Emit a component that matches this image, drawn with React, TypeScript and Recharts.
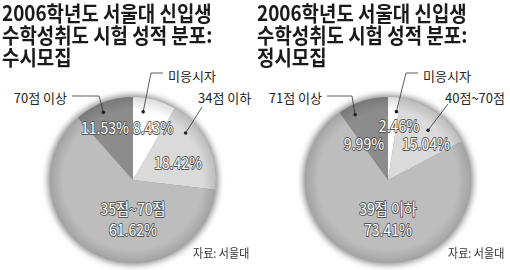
import React from 'react';
import { PieChart, Pie, Cell } from 'recharts';

// ---- data ----
const titleSusi = ['2006학년도 서울대 신입생', '수학성취도 시험 성적 분포:', '수시모집'];
const titleJeongsi = ['2006학년도 서울대 신입생', '수학성취도 시험 성적 분포:', '정시모집'];
const susiCategories = ['미응시자', '34점 이하', '35점~70점', '70점 이상'];
const susiValues = [8.43, 18.42, 61.62, 11.53];
const jeongsiCategories = ['미응시자', '40점~70점', '39점 이하', '71점 이상'];
const jeongsiValues = [2.46, 15.04, 73.41, 9.99];
const sourceText = '자료: 서울대';

// ---- styles / layout ----
const sliceColors = ['#ffffff', '#dadada', '#bdbdbd', '#8c8c8c'];
const W = 510;
const H = 270;
const R = 83;
const KR = '"Noto Sans CJK KR", "Noto Sans", sans-serif';

type Callout = {
  kind: 'callout';
  pct: [number, number];
  text: [number, number];
  anchor: 'start' | 'end';
  line: [number, number][];
  dotAt: number; // fraction of the slice's sweep, from its start
  dotR: number; // fraction of the radius
};
type Inside = { kind: 'inside'; name: [number, number]; pct: [number, number] };
type LabelLayout = Callout | Inside;

const susiLayout: LabelLayout[] = [
  { kind: 'callout', pct: [20, -53], text: [35, -105], anchor: 'start', line: [[30, -107], [18, -107]], dotAt: 0.28, dotR: 0.83 },
  { kind: 'callout', pct: [45, -18], text: [65, -83], anchor: 'start', line: [[69, -73]], dotAt: 0.27, dotR: 0.85 },
  { kind: 'inside', name: [0, 28], pct: [0, 49] },
  { kind: 'callout', pct: [-28, -53], text: [-66, -83], anchor: 'end', line: [[-61, -84], [-34, -84]], dotAt: 0.43, dotR: 0.89 },
];
const jeongsiLayout: LabelLayout[] = [
  { kind: 'callout', pct: [11, -55], text: [35, -105], anchor: 'start', line: [[30, -107], [18, -107]], dotAt: 0.8, dotR: 0.83 },
  { kind: 'callout', pct: [38, -37], text: [57, -83], anchor: 'start', line: [[60, -76]], dotAt: 0.56, dotR: 0.77 },
  { kind: 'inside', name: [0, 28], pct: [0, 49] },
  { kind: 'callout', pct: [-24, -37], text: [-66, -83], anchor: 'end', line: [[-61, -84], [-36, -84]], dotAt: 0.25, dotR: 0.88 },
];

const RAD = Math.PI / 180;

const OutlineText = ({ x, y, children }: { x: number; y: number; children: React.ReactNode }) => (
  <text
    transform={`translate(${x},${y}) scale(0.88,1)`}
    x={0}
    y={0}
    textAnchor="middle"
    dominantBaseline="central"
    fontFamily={KR}
    fontSize={16}
    fill="#ffffff"
    stroke="#555"
    strokeWidth={1.8}
    strokeLinejoin="round"
    style={{ paintOrder: 'stroke' }}
  >
    {children}
  </text>
);

const makeLabel = (cats: string[], vals: number[], layout: LabelLayout[]) => (props: any) => {
  const { cx, cy, outerRadius, index, startAngle, endAngle } = props;
  const L = layout[index];
  const pctText = `${vals[index].toFixed(2)}%`;
  if (!L) return null;
  if (L.kind === 'inside') {
    return (
      <g>
        <OutlineText x={cx + L.name[0]} y={cy + L.name[1]}>{cats[index]}</OutlineText>
        <OutlineText x={cx + L.pct[0]} y={cy + L.pct[1]}>{pctText}</OutlineText>
      </g>
    );
  }
  const ang = startAngle + L.dotAt * (endAngle - startAngle);
  const dr = outerRadius * L.dotR;
  const dx = cx + dr * Math.cos(-ang * RAD);
  const dy = cy + dr * Math.sin(-ang * RAD);
  const pts = [...L.line.map(([a, b]) => [cx + a, cy + b]), [dx, dy]];
  return (
    <g>
      <polyline points={pts.map((p) => p.join(',')).join(' ')} fill="none" stroke="#333" strokeWidth={0.8} />
      <circle cx={dx} cy={dy} r={1.8} fill="#222" />
      <text
        x={cx + L.text[0]}
        y={cy + L.text[1]}
        textAnchor={L.anchor}
        dominantBaseline="central"
        fontFamily={KR}
        fontSize={13}
        fill="#222"
      >
        {cats[index]}
      </text>
      <OutlineText x={cx + L.pct[0]} y={cy + L.pct[1]}>{pctText}</OutlineText>
    </g>
  );
};

const susiData = susiCategories.map((name, i) => ({ name, value: susiValues[i] }));
const jeongsiData = jeongsiCategories.map((name, i) => ({ name, value: jeongsiValues[i] }));
const susiTotal = [{ name: 'total', value: susiValues.reduce((a, b) => a + b, 0) }];
const jeongsiTotal = [{ name: 'total', value: jeongsiValues.reduce((a, b) => a + b, 0) }];

const Title = ({ lines, left }: { lines: string[]; left: number }) => (
  <div
    style={{
      position: 'absolute',
      left,
      top: 1,
      fontFamily: KR,
      fontSize: 21,
      lineHeight: '22px',
      fontWeight: 700,
      color: '#1a1a1a',
      transform: 'scaleX(0.9)',
      transformOrigin: 'left top',
      whiteSpace: 'nowrap',
    }}
  >
    {lines.map((l, i) => (
      <div key={i}>{l}</div>
    ))}
  </div>
);

const Source = ({ left }: { left: number }) => (
  <div
    style={{
      position: 'absolute',
      left,
      top: 244,
      fontFamily: KR,
      fontSize: 12,
      color: '#333',
      whiteSpace: 'nowrap',
      transform: 'scaleX(0.92)',
      transformOrigin: 'left top',
    }}
  >
    {sourceText}
  </div>
);

const pieSet = (
  key: string,
  cx: number,
  data: { name: string; value: number }[],
  total: { name: string; value: number }[],
  cats: string[],
  vals: number[],
  layout: LabelLayout[]
) => [
  <Pie
    key={key + '-shadow'}
    data={total}
    dataKey="value"
    cx={cx}
    cy={175}
    outerRadius={R + 2}
    startAngle={90}
    endAngle={-270}
    stroke="none"
    isAnimationActive={false}
  >
    <Cell fill="#8a8a8a" filter="url(#pieShadow)" />
  </Pie>,
  <Pie
    key={key + '-main'}
    data={data}
    dataKey="value"
    nameKey="name"
    cx={cx}
    cy={175}
    outerRadius={R}
    startAngle={90}
    endAngle={-270}
    stroke="none"
    isAnimationActive={false}
    labelLine={false}
  >
    {data.map((d, i) => (
      <Cell key={d.name} fill={sliceColors[i]} />
    ))}
  </Pie>,
  <Pie
    key={key + '-vig'}
    data={total}
    dataKey="value"
    cx={cx}
    cy={175}
    outerRadius={R}
    startAngle={90}
    endAngle={-270}
    stroke="none"
    isAnimationActive={false}
    label={false}
  >
    <Cell fill="url(#pieVignette)" />
  </Pie>,
  <Pie
    key={key + '-labels'}
    data={data}
    dataKey="value"
    nameKey="name"
    cx={cx}
    cy={175}
    outerRadius={R}
    startAngle={90}
    endAngle={-270}
    fill="none"
    stroke="none"
    isAnimationActive={false}
    labelLine={false}
    label={makeLabel(cats, vals, layout)}
  >
    {data.map((d) => (
      <Cell key={d.name} fill="none" />
    ))}
  </Pie>,
];

export default function App() {
  return (
    <div style={{ position: 'absolute', left: 0, top: 0, width: W, height: H, background: '#fff', overflow: 'hidden' }}>
      <PieChart width={W} height={H} style={{ position: 'absolute', left: 0, top: 0 }}>
        <defs>
          <filter id="pieShadow" x="-20%" y="-20%" width="140%" height="140%">
            <feGaussianBlur stdDeviation={3} />
          </filter>
          <radialGradient id="pieVignette" cx="50%" cy="50%" r="50%">
            <stop offset="0.84" stopColor="#000" stopOpacity={0} />
            <stop offset="1" stopColor="#000" stopOpacity={0.14} />
          </radialGradient>
        </defs>
        {pieSet('susi', 128, susiData, susiTotal, susiCategories, susiValues, susiLayout)}
        {pieSet('jeongsi', 383, jeongsiData, jeongsiTotal, jeongsiCategories, jeongsiValues, jeongsiLayout)}
      </PieChart>
      <Title lines={titleSusi} left={2} />
      <Title lines={titleJeongsi} left={257} />
      <Source left={193} />
      <Source left={448} />
    </div>
  );
}
